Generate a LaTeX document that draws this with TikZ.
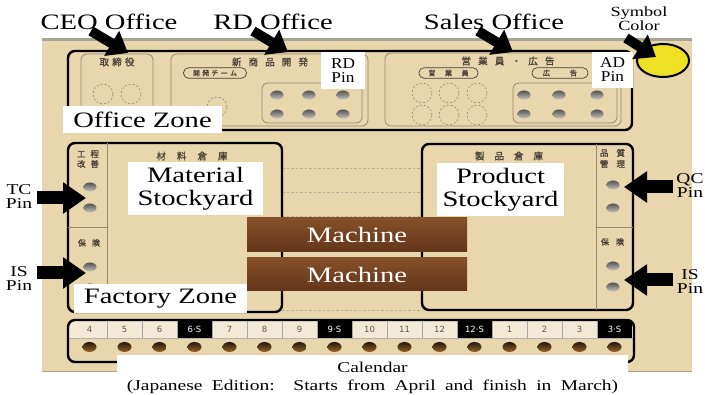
\documentclass[tikz,border=0pt]{standalone}
\usepackage{fontspec}
\setmainfont{Liberation Serif}
\newfontfamily\jpfont[FakeBold=1.2]{Noto Sans CJK JP}
\newfontfamily\calfont{DejaVu Sans}
\usetikzlibrary{arrows.meta,shapes.geometric}

\definecolor{boardtan}{HTML}{E8D6AD}
\definecolor{boardrim}{HTML}{A9A596}
\definecolor{subline}{HTML}{958A72}
\definecolor{jpink}{HTML}{4A4236}
\definecolor{guidegray}{HTML}{BDB096}
\definecolor{woodlight}{HTML}{85502A}
\definecolor{wooddark}{HTML}{633519}
\definecolor{signyellow}{HTML}{EEE024}
\definecolor{cellpaper}{HTML}{F2EAD6}
\definecolor{numgray}{HTML}{5A5852}
\definecolor{pegtop}{HTML}{555553}
\definecolor{pegbottom}{HTML}{C4C2BA}
\definecolor{caltop}{HTML}{22170E}
\definecolor{calbottom}{HTML}{9A6628}

% horizontal stretch used by the annotation lettering
\newcommand\sx[1]{\scalebox{1.3}[1]{#1}}
% Japanese board lettering: size, total width, characters separated by \hfill
\newcommand\jp[3]{{\jpfont\fontsize{#1}{#1}\selectfont\makebox[#2]{#3}}}

\tikzset{
  zone/.style={draw=black, line width=2.4pt, rounded corners=7pt},
  subzone/.style={draw=subline, line width=0.8pt, rounded corners=6pt},
  divider/.style={draw=subline, line width=0.8pt},
  guide/.style={draw=guidegray, line width=0.6pt, dash pattern=on 2.5pt off 2pt},
  slot/.style={circle, draw=subline, line width=0.6pt, dash pattern=on 2pt off 2pt,
    minimum size=20pt, inner sep=0pt},
  peg/.style={ellipse, minimum width=13pt, minimum height=9pt, inner sep=0pt,
    top color=pegtop, bottom color=pegbottom},
  calpeg/.style={ellipse, minimum width=14pt, minimum height=10pt, inner sep=0pt,
    top color=caltop, bottom color=calbottom},
  jplabel/.style={text=jpink, inner sep=0pt},
  pill/.style={draw=jpink, line width=0.7pt, rounded corners=5pt,
    minimum height=10.5pt, inner sep=0pt, text=jpink},
  whitebox/.style={fill=white, inner sep=0pt, align=center},
  heading/.style={inner sep=0pt, font=\fontsize{22}{22}\selectfont},
  smalllbl/.style={inner sep=0pt, align=center, font=\fontsize{15}{14}\selectfont},
  machine/.style={minimum width=220pt, inner sep=0pt, top color=woodlight,
    bottom color=wooddark, text=white, font=\fontsize{22}{22}\selectfont},
  calnum/.style={inner sep=0pt, font=\calfont\fontsize{8.5}{8.5}\selectfont},
  blockarrow/.style={line width=10pt, -{Triangle[length=19pt,width=28pt]}},
  sidearrow/.style={line width=13pt, -{Triangle[length=23pt,width=30pt]}},
}

\begin{document}
\begin{tikzpicture}[x=1pt,y=-1pt]
\useasboundingbox (0,0) rectangle (705,395);
\fill[white] (0,0) rectangle (705,395);

% the board
\fill[boardtan] (42,38) rectangle (692,372);
\draw[boardrim, line width=3pt] (42,39.5) -- (692,39.5);
\draw[boardrim, line width=1.5pt] (42,371.5) -- (692,371.5);

% ---- office zone ----
\draw[zone] (68,51) rectangle (632,130);
\draw[subzone] (81,54) rectangle (153,126);
\draw[subzone] (171,54) rectangle (368,126);
\draw[subzone] (385,53) rectangle (621,126);
\draw[subzone] (262,83) rectangle (362,123);
\draw[subzone] (513,83) rectangle (617,123);

\node[jplabel] (ceoJp) at (117,62) {\jp{9.5}{35pt}{取\hfill 締\hfill 役}};
\node[jplabel] (rdJp) at (270,62) {\jp{9.5}{76pt}{新\hfill 商\hfill 品\hfill 開\hfill 発}};
\node[jplabel] (salesJp) at (508,61) {\jp{9.5}{93pt}{営\hfill 業\hfill 員\hfill ・\hfill 広\hfill 告}};
\node[pill, minimum width=63pt] (teamPill) at (215,73) {\jp{7}{44pt}{開\hfill 発\hfill チ\hfill ー\hfill ム}};
\node[pill, minimum width=59pt] (staffPill) at (448.5,73) {\jp{7}{40pt}{営\hfill 業\hfill 員}};
\node[pill, minimum width=56pt] (adPill) at (560,73) {\jp{7}{34pt}{広\hfill 告}};

\node[slot] (ceoSlotA) at (103,94) {};
\node[slot] (ceoSlotB) at (131,94) {};
\node[slot] (rdSlot) at (217,107) {};
\foreach \x [count=\i] in {422,449,477} {
  \node[slot] (salesSlotA\i) at (\x,93) {};
  \node[slot] (salesSlotB\i) at (\x,115) {};
}
\foreach \x [count=\i] in {277,309,343} {
  \node[peg] (rdPegA\i) at (\x,95) {};
  \node[peg] (rdPegB\i) at (\x,114) {};
}
\foreach \x [count=\i] in {524,559,597} {
  \node[peg] (adPegA\i) at (\x,95) {};
  \node[peg] (adPegB\i) at (\x,114) {};
}

% ---- factory zone ----
\foreach \y in {168,192,216,310} {
  \draw[guide] (282,\y) -- (422,\y);
}
\draw[zone] (68,143) rectangle (282,312);
\draw[divider] (107,143) -- (107,312);
\draw[divider] (68,227) -- (107,227);
\draw[zone] (422,144) rectangle (633,310);
\draw[divider] (596,144) -- (596,310);
\draw[divider] (596,227) -- (633,227);

\node[jplabel] (matJp) at (192,156) {\jp{9.5}{71pt}{材\hfill 料\hfill 倉\hfill 庫}};
\node[jplabel] (prodJp) at (509,156) {\jp{9.5}{68pt}{製\hfill 品\hfill 倉\hfill 庫}};
\node[jplabel] (tcJpA) at (88,154) {\jp{8.5}{22pt}{工\hfill 程}};
\node[jplabel] (tcJpB) at (88,164) {\jp{8.5}{22pt}{改\hfill 善}};
\node[jplabel] (isJpL) at (89,243) {\jp{8}{22pt}{保\hfill 険}};
\node[jplabel] (qcJpA) at (612.5,153) {\jp{8.5}{25pt}{品\hfill 質}};
\node[jplabel] (qcJpB) at (612.5,164) {\jp{8.5}{25pt}{管\hfill 理}};
\node[jplabel] (isJpR) at (612.5,242) {\jp{8}{23pt}{保\hfill 険}};

\node[peg] (tcPegA) at (90,187) {};
\node[peg] (tcPegB) at (90,208) {};
\node[peg] (isPegLA) at (90,267) {};
\node[peg] (isPegLB) at (90,288) {};
\node[peg] (qcPegA) at (613,185) {};
\node[peg] (qcPegB) at (613,208) {};
\node[peg] (isPegRA) at (613,266) {};
\node[peg] (isPegRB) at (613,287) {};

\node[machine, minimum height=34pt] (machineA) at (357,235) {\sx{Machine}};
\node[machine, minimum height=33pt] (machineB) at (357,274.5) {\sx{Machine}};

% ---- calendar strip ----
\begin{scope}
  \clip[rounded corners=7pt] (68,320) rectangle (634,362);
  \fill[cellpaper] (68,320) rectangle (634,338);
  \foreach \t/\k [count=\i from 0] in {4/0,5/0,6/0,6·S/1,7/0,8/0,9/0,9·S/1,
      10/0,11/0,12/0,12·S/1,1/0,2/0,3/0,3·S/1} {
    \pgfmathsetmacro\xa{72+35*\i}
    \ifnum\k=1
      \fill[black] (\xa,320) rectangle ({\xa+35},338);
      \def\cellcol{white}
    \else
      \def\cellcol{numgray}
    \fi
    \ifnum\i>0 \draw[gray!70, line width=0.5pt] (\xa,320) -- (\xa,338); \fi
    \node[calnum, text=\cellcol] (cal\i) at ({\xa+17.5},329.5) {\t};
    \node[calpeg] (calPeg\i) at ({\xa+17.5},347) {};
  }
  \draw[gray!60, line width=0.5pt] (68,338) -- (634,338);
\end{scope}
\draw[zone] (68,320) rectangle (634,362);

% ---- annotation labels ----
\node[whitebox, minimum width=159pt, minimum height=27pt, font=\fontsize{22}{22}\selectfont]
  (officeZone) at (142.5,119.5) {\sx{Office Zone}};
\node[whitebox, minimum width=173pt, minimum height=29pt, font=\fontsize{22}{22}\selectfont]
  (factoryZone) at (160.5,298.5) {\sx{Factory Zone}};
\node[whitebox, minimum width=135pt, minimum height=53pt, font=\fontsize{22}{23}\selectfont]
  (materialLbl) at (195.5,188.5) {\sx{Material}\\\sx{Stockyard}};
\node[whitebox, minimum width=127pt, minimum height=53pt, font=\fontsize{22}{23}\selectfont]
  (productLbl) at (500.5,189.5) {\sx{Product}\\\sx{Stockyard}};
\node[whitebox, minimum width=44pt, minimum height=37pt, font=\fontsize{15}{14}\selectfont]
  (rdPinLbl) at (343,70.5) {\scalebox{1.15}[1]{RD}\\\scalebox{1.15}[1]{Pin}};
\node[whitebox, minimum width=41pt, minimum height=36pt, font=\fontsize{15}{14}\selectfont]
  (adPinLbl) at (612.5,70) {\scalebox{1.15}[1]{AD}\\\scalebox{1.15}[1]{Pin}};
\node[whitebox, minimum width=511pt, minimum height=40pt] (calendarLbl) at (372.5,375) {};
\node[inner sep=0pt, align=center, font=\fontsize{15}{18}\selectfont]
  (calendarTxt) at (372.5,377.5)
  {\sx{Calendar}\\\scalebox{1.3}[1]{\makebox[378pt][s]{(Japanese Edition:\ \ Starts from April and finish in March)}}};

% symbol colour marker
\node[ellipse, minimum width=52pt, minimum height=33pt, inner sep=0pt,
  fill=signyellow, draw=black, line width=2pt] (symbolColor) at (663,60.5) {};

% ---- headings ----
\node[heading] (ceoHead) at (109,22) {\sx{CEO Office}};
\node[heading] (rdHead) at (273,22) {\sx{RD Office}};
\node[heading] (salesHead) at (494,22) {\sx{Sales Office}};
\node[inner sep=0pt, align=center, font=\fontsize{14}{14}\selectfont]
  (symbolHead) at (639,19) {\sx{Symbol}\\\sx{Color}};

\node[smalllbl] (tcLbl) at (19,197) {\sx{TC}\\\sx{Pin}};
\node[smalllbl] (isLblL) at (19,279) {\sx{IS}\\\sx{Pin}};
\node[smalllbl] (qcLbl) at (690,186) {\sx{QC}\\\sx{Pin}};
\node[smalllbl] (isLblR) at (690,282) {\sx{IS}\\\sx{Pin}};

% ---- pointer arrows ----
\coordinate (ceoTail) at (91,31);   \coordinate (ceoTip) at (128,53);
\coordinate (rdTail) at (253,31);   \coordinate (rdTip) at (288,52);
\coordinate (salesTail) at (478,31);\coordinate (salesTip) at (513,52);
\coordinate (symTail) at (626,38);  \coordinate (symTip) at (656,57);
\draw[blockarrow] (ceoTail) -- (ceoTip);
\draw[blockarrow] (rdTail) -- (rdTip);
\draw[blockarrow] (salesTail) -- (salesTip);
\draw[blockarrow] (symTail) -- (symTip);

\coordinate (tcTail) at (37,198);   \coordinate (tcTip) at (86,198);
\coordinate (isTailL) at (37,273);  \coordinate (isTipL) at (86,273);
\coordinate (qcTail) at (673,187);  \coordinate (qcTip) at (624,187);
\coordinate (isTailR) at (673,280); \coordinate (isTipR) at (624,280);
\draw[sidearrow] (tcTail) -- (tcTip);
\draw[sidearrow] (isTailL) -- (isTipL);
\draw[sidearrow] (qcTail) -- (qcTip);
\draw[sidearrow] (isTailR) -- (isTipR);
\end{tikzpicture}
\end{document}
